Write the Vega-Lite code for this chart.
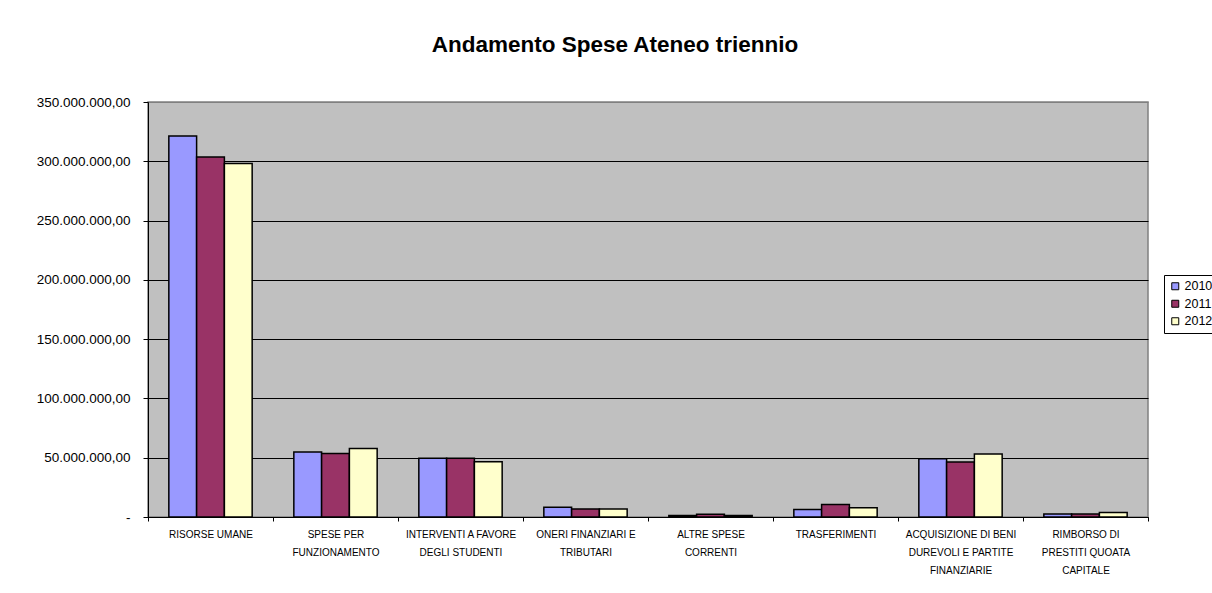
{
  "$schema": "https://vega.github.io/schema/vega-lite/v6.json",
  "width": 1000,
  "height": 415,
  "autosize": {"type": "none"},
  "padding": {"left": 148, "top": 102, "right": 64, "bottom": 76},
  "background": "white",
  "title": {
    "text": "Andamento Spese Ateneo triennio",
    "font": "Liberation Sans",
    "fontSize": 22.5,
    "fontWeight": "bold",
    "color": "black",
    "anchor": "middle",
    "frame": "group",
    "dx": -33,
    "offset": 21,
    "baseline": "alphabetic"
  },
  "data": {
    "values": [
      {"voce": "RISORSE UMANE", "anno": "2010", "importo": 321300000},
      {"voce": "RISORSE UMANE", "anno": "2011", "importo": 303600000},
      {"voce": "RISORSE UMANE", "anno": "2012", "importo": 298200000},
      {"voce": "SPESE PER|FUNZIONAMENTO", "anno": "2010", "importo": 54900000},
      {"voce": "SPESE PER|FUNZIONAMENTO", "anno": "2011", "importo": 53500000},
      {"voce": "SPESE PER|FUNZIONAMENTO", "anno": "2012", "importo": 57700000},
      {"voce": "INTERVENTI A FAVORE|DEGLI STUDENTI", "anno": "2010", "importo": 49600000},
      {"voce": "INTERVENTI A FAVORE|DEGLI STUDENTI", "anno": "2011", "importo": 49600000},
      {"voce": "INTERVENTI A FAVORE|DEGLI STUDENTI", "anno": "2012", "importo": 46700000},
      {"voce": "ONERI FINANZIARI E|TRIBUTARI", "anno": "2010", "importo": 8200000},
      {"voce": "ONERI FINANZIARI E|TRIBUTARI", "anno": "2011", "importo": 6800000},
      {"voce": "ONERI FINANZIARI E|TRIBUTARI", "anno": "2012", "importo": 6800000},
      {"voce": "ALTRE SPESE|CORRENTI", "anno": "2010", "importo": 1300000},
      {"voce": "ALTRE SPESE|CORRENTI", "anno": "2011", "importo": 2400000},
      {"voce": "ALTRE SPESE|CORRENTI", "anno": "2012", "importo": 1300000},
      {"voce": "TRASFERIMENTI", "anno": "2010", "importo": 6300000},
      {"voce": "TRASFERIMENTI", "anno": "2011", "importo": 10500000},
      {"voce": "TRASFERIMENTI", "anno": "2012", "importo": 7900000},
      {"voce": "ACQUISIZIONE DI BENI|DUREVOLI E PARTITE|FINANZIARIE", "anno": "2010", "importo": 49200000},
      {"voce": "ACQUISIZIONE DI BENI|DUREVOLI E PARTITE|FINANZIARIE", "anno": "2011", "importo": 46300000},
      {"voce": "ACQUISIZIONE DI BENI|DUREVOLI E PARTITE|FINANZIARIE", "anno": "2012", "importo": 53100000},
      {"voce": "RIMBORSO DI|PRESTITI QUOATA|CAPITALE", "anno": "2010", "importo": 2500000},
      {"voce": "RIMBORSO DI|PRESTITI QUOATA|CAPITALE", "anno": "2011", "importo": 2500000},
      {"voce": "RIMBORSO DI|PRESTITI QUOATA|CAPITALE", "anno": "2012", "importo": 3700000}
    ]
  },
  "mark": {"type": "bar", "stroke": "black", "strokeWidth": 1.5},
  "encoding": {
    "x": {
      "field": "voce",
      "type": "nominal",
      "sort": null,
      "title": null,
      "scale": {"paddingInner": 0, "paddingOuter": 0},
      "axis": {
        "tickBand": "extent",
        "tickSize": 4,
        "tickColor": "black",
        "domainColor": "black",
        "labelAngle": 0,
        "labelFont": "Liberation Sans",
        "labelFontSize": 10,
        "labelColor": "black",
        "labelLineHeight": 18,
        "labelPadding": 8,
        "labelLimit": 0,
        "labelOverlap": false,
        "labelExpr": "split(datum.label, '|')"
      }
    },
    "xOffset": {
      "field": "anno",
      "type": "nominal",
      "scale": {"paddingInner": 0, "paddingOuter": 0.75}
    },
    "y": {
      "field": "importo",
      "type": "quantitative",
      "title": null,
      "scale": {"domain": [0, 350000000], "nice": false},
      "axis": {
        "values": [0, 50000000, 100000000, 150000000, 200000000, 250000000, 300000000, 350000000],
        "grid": true,
        "gridColor": {"condition": {"test": "datum.value == 350000000", "value": "#808080"}, "value": "black"},
        "gridWidth": 1,
        "tickSize": 5,
        "tickColor": "black",
        "domainColor": "black",
        "labelFont": "Liberation Sans",
        "labelFontSize": 13.5,
        "labelColor": "black",
        "labelPadding": 13,
        "labelExpr": "datum.value == 0 ? '-\u00a0\u00a0\u00a0\u00a0' : replace(replace(replace(format(datum.value, ',.2f'), regexp(',', 'g'), '#'), '.', ','), regexp('#', 'g'), '.')"
      }
    },
    "fill": {
      "field": "anno",
      "type": "nominal",
      "scale": {"domain": ["2010", "2011", "2012"], "range": ["#9999FF", "#993366", "#FFFFCC"]},
      "legend": {
        "title": null,
        "orient": "none",
        "legendX": 1016,
        "legendY": 173,
        "strokeColor": "black",
        "fillColor": "white",
        "padding": 5,
        "symbolType": "square",
        "symbolSize": 49,
        "symbolStrokeColor": "black",
        "symbolStrokeWidth": 1,
        "labelFont": "Liberation Sans",
        "labelFontSize": 12.5,
        "labelColor": "black",
        "labelOffset": 3,
        "rowPadding": 4.5
      }
    }
  },
  "config": {
    "view": {"fill": "#C0C0C0", "stroke": "#808080", "strokeWidth": 1.5}
  }
}
